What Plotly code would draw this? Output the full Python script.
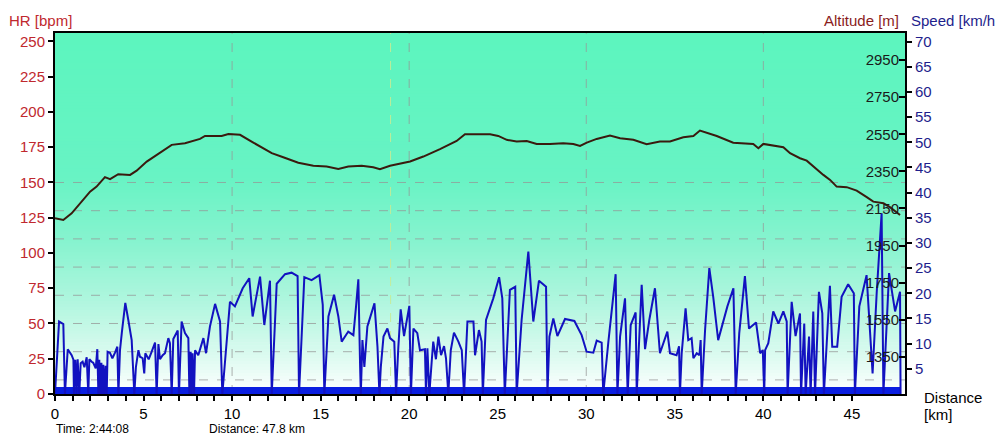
import plotly.graph_objects as go

# ---------------- data ----------------
alt_km = [0.0, 0.47, 0.94, 1.51, 1.98, 2.35, 2.82, 3.11, 3.57, 4.24, 4.61, 5.18, 5.74, 6.59,
          7.34, 8.19, 8.47, 9.41, 9.79, 10.45, 11.2, 11.86, 12.24, 12.89, 13.74, 14.59, 15.34,
          16.0, 16.56, 17.32, 17.97, 18.35, 18.92, 20.05, 20.8, 21.74, 22.68, 23.15, 24.57,
          25.03, 25.51, 26.07, 26.64, 27.2, 27.95, 28.7, 29.27, 29.65, 30.03, 30.59, 31.34,
          31.91, 32.66, 33.41, 34.16, 34.73, 35.48, 36.05, 36.42, 37.37, 38.3, 39.43, 39.72,
          40.0, 41.13, 41.51, 42.07, 42.45, 42.82, 43.39, 43.77, 44.14, 44.71, 45.27, 45.84,
          46.21, 46.78, 47.15, 47.72]
altitude_m = [2097, 2088, 2124, 2187, 2241, 2268, 2319, 2308, 2335, 2331, 2354, 2403, 2439, 2493,
              2502, 2525, 2541, 2541, 2552, 2547, 2505, 2466, 2448, 2426, 2397, 2381, 2376,
              2363, 2376, 2381, 2372, 2362, 2380, 2403, 2430, 2470, 2514, 2550, 2550,
              2541, 2520, 2511, 2514, 2498, 2497, 2502, 2498, 2487, 2505, 2525, 2543,
              2529, 2520, 2497, 2511, 2511, 2534, 2541, 2570, 2541, 2505, 2498, 2475,
              2498, 2480, 2448, 2421, 2408, 2376, 2331, 2304, 2268, 2265, 2246, 2211,
              2187, 2178, 2157, 2115]

speed_km = [0.0, 0.09, 0.23, 0.47, 0.56, 0.72, 0.94, 1.04, 1.07, 1.15, 1.22, 1.28, 1.37, 1.45,
            1.56, 1.66, 1.79, 1.88, 1.94, 2.07, 2.16, 2.30, 2.39, 2.45, 2.50, 2.56, 2.62, 2.67,
            2.73, 2.79, 2.86, 2.92, 2.97, 3.10, 3.24, 3.39, 3.52, 3.58, 3.67, 3.78, 3.97, 4.14,
            4.33, 4.48, 4.57, 4.71, 4.80, 4.95, 5.04, 5.10, 5.29, 5.46, 5.65, 5.74, 5.84, 5.93,
            6.08, 6.21, 6.40, 6.49, 6.59, 6.68, 6.83, 6.93, 7.00, 7.15, 7.34, 7.53, 7.59, 7.66,
            7.72, 7.77, 7.85, 7.91, 8.09, 8.38, 8.53, 8.75, 9.04, 9.32, 9.45, 9.69, 9.88, 10.16,
            10.60, 10.97, 11.16, 11.58, 11.82, 12.14, 12.24, 12.52, 12.99, 13.36, 13.70, 13.78,
            14.08, 14.49, 14.93, 15.12, 15.21, 15.44, 15.76, 16.00, 16.19, 16.56, 16.85, 17.00,
            17.13, 17.23, 17.27, 17.36, 17.47, 17.64, 18.04, 18.21, 18.32, 18.40, 18.55, 18.77,
            18.92, 19.16, 19.26, 19.39, 19.52, 19.71, 20.01, 20.10, 20.24, 20.46, 20.61, 20.89,
            20.95, 21.03, 21.14, 21.28, 21.36, 21.51, 21.65, 21.80, 21.97, 22.08, 22.21, 22.35,
            22.53, 22.78, 22.97, 23.10, 23.29, 23.63, 23.72, 23.94, 24.09, 24.16, 24.34, 24.75,
            25.08, 25.26, 25.40, 25.69, 25.99, 26.07, 26.35, 26.73, 27.01, 27.33, 27.73, 27.81,
            27.92, 28.14, 28.37, 28.80, 29.33, 29.74, 30.02, 30.40, 30.59, 30.87, 30.96, 31.25,
            31.66, 31.76, 31.91, 32.19, 32.34, 32.51, 32.79, 32.85, 33.13, 33.32, 33.56, 33.88,
            34.16, 34.58, 34.73, 35.10, 35.24, 35.29, 35.39, 35.61, 35.76, 35.95, 36.05, 36.24,
            36.39, 36.46, 36.52, 36.71, 36.95, 37.17, 37.45, 37.97, 38.31, 38.44, 38.64, 38.96,
            39.19, 39.59, 39.82, 39.97, 40.05, 40.10, 40.28, 40.56, 40.85, 41.13, 41.32, 41.37,
            41.60, 41.82, 42.07, 42.13, 42.31, 42.39, 42.58, 42.67, 42.82, 42.92, 43.14, 43.33,
            43.42, 43.76, 43.89, 44.17, 44.42, 44.79, 45.11, 45.17, 45.42, 45.83, 46.02, 46.17,
            46.40, 46.68, 46.78, 47.00, 47.10, 47.28, 47.44, 47.72, 47.75]
speed_kmh = [0, 6.8, 14.4, 13.9, 0, 8.9, 7.7, 6.8, 0, 6.8, 0, 6.9, 0, 6.1,
             6.4, 5.3, 7.3, 0, 6.9, 6.4, 6.2, 5.1, 8.9, 0, 6.8, 0, 6.2, 0,
             5.8, 0, 5.6, 0, 8.4, 8.2, 7.1, 8.2, 9.4, 0, 8.7, 12.4, 18.1, 14.7,
             10.7, 0, 5.4, 8.7, 7.4, 7.1, 4.1, 8.1, 6.9, 8.4, 10.2, 0, 9.9, 6.9,
             7.7, 8.1, 11.1, 10.1, 0, 10.9, 12.1, 12.6, 0, 14.4, 12.1, 11.1, 0, 8.4,
             0, 8.1, 0, 8.7, 7.7, 11.1, 8.1, 13.4, 17.9, 14.4, 0, 10.7, 18.3, 17.4,
             21.0, 23.0, 15.4, 23.3, 13.7, 22.5, 0, 21.9, 23.8, 24.1, 23.4, 0,
             23.2, 22.6, 23.6, 17.7, 0, 15.4, 19.7, 15.4, 10.4, 12.4, 11.7, 17.4,
             22.8, 5.4, 0, 10.7, 5.4, 13.4, 18.0, 9.4, 0, 5.4, 11.4, 13.0,
             11.1, 10.4, 0, 9.4, 16.8, 11.5, 17.5, 0, 13.0, 12.1, 8.7, 8.9,
             0, 9.1, 0, 6.8, 10.4, 6.9, 11.4, 7.7, 9.5, 7.1, 0, 8.7,
             12.2, 10.4, 8.7, 0, 14.4, 14.4, 7.7, 12.7, 10.4, 0, 14.7, 19.0,
             23.2, 19.0, 0, 20.7, 21.3, 0, 14.7, 28.3, 14.4, 22.5, 21.3, 0,
             11.4, 15.0, 11.5, 14.9, 14.5, 11.7, 8.4, 8.2, 10.6, 10.2, 0, 10.4,
             23.8, 0, 11.4, 19.0, 0, 13.7, 16.2, 0, 21.7, 8.9, 14.7, 21.0,
             8.1, 12.4, 8.1, 7.7, 9.5, 0, 8.1, 17.0, 10.7, 11.1, 7.1, 8.1,
             7.7, 10.7, 0, 12.7, 25.0, 19.3, 10.7, 17.4, 21.0, 0, 12.1, 23.4,
             13.0, 14.2, 8.1, 8.7, 0, 8.7, 10.1, 16.4, 14.0, 16.4, 14.4, 0,
             18.3, 11.5, 16.0, 0, 14.0, 0, 11.4, 0, 16.4, 0, 20.3, 16.0,
             0, 21.5, 9.4, 9.4, 19.3, 21.8, 20.0, 0, 17.4, 23.6, 11.7, 4.1,
             20.0, 35.9, 0, 15.4, 24.0, 20.0, 16.4, 20.3, 0]

hr_km = [0.0, 47.75]
hr_bpm = [0, 0]

hr_ticks = [0, 25, 50, 75, 100, 125, 150, 175, 200, 225, 250]
alt_ticks = [1350, 1550, 1750, 1950, 2150, 2350, 2550, 2750, 2950]
speed_ticks = [5, 10, 15, 20, 25, 30, 35, 40, 45, 50, 55, 60, 65, 70]
dist_ticks = [0, 5, 10, 15, 20, 25, 30, 35, 40, 45]

time_text = "Time: 2:44:08"
dist_text = "Distance: 47.8 km"

# ---------------- styling ----------------
FONT = "Liberation Sans, Arial, sans-serif"
RED = "#c0282e"
MAROON = "#8a1c1c"
NAVY = "#1e1e8c"

fig = go.Figure()

fig.add_trace(go.Scatter(x=hr_km, y=hr_bpm, mode="lines", yaxis="y",
                         line=dict(color="#0a1ee0", width=14), hoverinfo="skip",
                         showlegend=False))
fig.add_trace(go.Scatter(x=alt_km, y=altitude_m, mode="lines", yaxis="y2",
                         line=dict(color="#3a1a0e", width=2), showlegend=False))
fig.add_trace(go.Scatter(x=speed_km, y=speed_kmh, mode="lines", yaxis="y3",
                         line=dict(color="#1212c0", width=2), showlegend=False))

# gradient background
stops = [(0.0, (255, 255, 255)), (0.12, (215, 250, 238)), (0.26, (175, 246, 222)),
         (0.42, (135, 243, 207)), (0.6, (104, 243, 196)), (1.0, (92, 245, 190))]


def col_at(t):
    for (t0, c0), (t1, c1) in zip(stops[:-1], stops[1:]):
        if t0 <= t <= t1:
            f = (t - t0) / (t1 - t0)
            return "rgb(%d,%d,%d)" % tuple(round(a + (b - a) * f) for a, b in zip(c0, c1))
    return "rgb(%d,%d,%d)" % stops[-1][1]


shapes = []
N = 120
for i in range(N):
    y0 = i / N
    y1 = (i + 1) / N
    shapes.append(dict(type="rect", xref="paper", yref="paper", x0=0, x1=1, y0=y0,
                       y1=y1 + 0.002, fillcolor=col_at((y0 + y1) / 2), line=dict(width=0),
                       layer="below"))

grid_col = "rgba(150,150,150,0.75)"
for v in range(10, 151, 20):
    shapes.append(dict(type="line", xref="paper", yref="y", x0=0, x1=1, y0=v, y1=v,
                       line=dict(color=grid_col, width=1, dash="dash"), layer="below"))
for v in [10, 20, 30, 40]:
    shapes.append(dict(type="line", xref="x", yref="paper", x0=v, x1=v, y0=0, y1=1,
                       line=dict(color=grid_col, width=1, dash="dash"), layer="below"))
shapes.append(dict(type="line", xref="x", yref="paper", x0=18.95, x1=18.95, y0=0, y1=1,
                   line=dict(color="rgba(200,235,150,0.9)", width=1, dash="dash"),
                   layer="below"))

# The page body has an 8px margin, so the figure is 8px smaller and margins compensate.
fig.update_layout(
    width=995, height=429,
    margin=dict(l=47, r=98, t=25, b=43),
    paper_bgcolor="white", plot_bgcolor="white",
    font=dict(family=FONT, size=15, color="black"),
    shapes=shapes,
    xaxis=dict(range=[0, 48], tickvals=dist_ticks, ticks="outside", ticklen=5,
               tickwidth=2, tickcolor="black", showline=True, linecolor="black",
               linewidth=2, mirror=True, showgrid=False, zeroline=False,
               tickfont=dict(family=FONT, size=15, color="black"),
               minor=dict(dtick=1, tick0=0, ticks="outside", ticklen=5, tickwidth=2,
                          tickcolor="black", showgrid=False)),
    yaxis=dict(range=[0, 256], tickvals=hr_ticks, ticks="outside", ticklen=5, tickwidth=2,
               tickcolor="black", showline=True, linecolor="black", linewidth=2,
               showgrid=False, zeroline=False,
               tickfont=dict(family=FONT, size=15, color=RED)),
    yaxis2=dict(range=[1150, 3096], tickvals=alt_ticks, overlaying="y", side="right",
                anchor="x", ticklabelposition="inside", ticks="inside", ticklen=6,
                tickwidth=2, tickcolor="black", showline=True, linecolor="black",
                linewidth=2, showgrid=False, zeroline=False,
                tickfont=dict(family=FONT, size=15, color="#1a1a1a")),
    yaxis3=dict(range=[0, 71.7], tickvals=speed_ticks, overlaying="y", side="right",
                anchor="x", ticks="outside", ticklen=6, tickwidth=2, tickcolor="black",
                showline=False, showgrid=False, zeroline=False,
                tickfont=dict(family=FONT, size=15, color=NAVY)),
    annotations=[
        dict(text="HR [bpm]", xref="paper", yref="paper", x=-0.056, y=1.036,
             xanchor="left", yanchor="middle", showarrow=False,
             font=dict(family=FONT, size=15, color=RED)),
        dict(text="Altitude [m]", xref="paper", yref="paper", x=0.995, y=1.036,
             xanchor="right", yanchor="middle", showarrow=False,
             font=dict(family=FONT, size=15, color=MAROON)),
        dict(text="Speed [km/h]", xref="paper", yref="paper", x=1.005, y=1.036,
             xanchor="left", yanchor="middle", showarrow=False,
             font=dict(family=FONT, size=15, color=NAVY)),
        dict(text="Distance", xref="paper", yref="paper", x=1.02, y=-0.011,
             xanchor="left", yanchor="middle", showarrow=False,
             font=dict(family=FONT, size=15, color="black")),
        dict(text="[km]", xref="paper", yref="paper", x=1.02, y=-0.058,
             xanchor="left", yanchor="middle", showarrow=False,
             font=dict(family=FONT, size=15, color="black")),
        dict(text=time_text, xref="paper", yref="paper", x=0.0, y=-0.119,
             xanchor="left", yanchor="bottom", showarrow=False, borderpad=0,
             font=dict(family=FONT, size=12, color="black")),
        dict(text=dist_text, xref="paper", yref="paper", x=0.18, y=-0.119,
             xanchor="left", yanchor="bottom", showarrow=False, borderpad=0,
             font=dict(family=FONT, size=12, color="black")),
    ],
)

fig.write_html("out.html")
